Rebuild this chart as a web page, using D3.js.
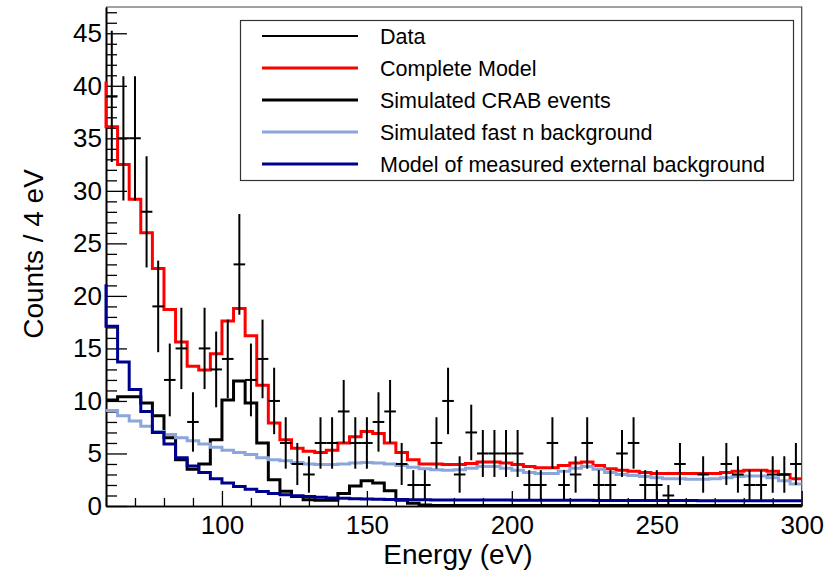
<!DOCTYPE html>
<html>
<head>
<meta charset="utf-8">
<script src="https://cdn.jsdelivr.net/npm/d3@7"></script>
<style>
  html, body { margin: 0; padding: 0; background: #ffffff; }
  svg { display: block; font-family: "Liberation Sans", Arial, Helvetica, sans-serif; }
</style>
</head>
<body>
<svg id="chart" width="836" height="571"></svg>
<script>
// ---- Data (4 eV bins, bin centres in eV) ----
const binCenters = [62,66,70,74,78,82,86,90,94,98,102,106,110,114,118,122,126,130,134,138,
  142,146,150,154,158,162,166,170,174,178,182,186,190,194,198,202,206,210,214,218,
  222,226,230,234,238,242,246,250,254,258,262,266,270,274,278,282,286,290,294,298];
const binWidth = 4;

// measured counts per bin
const dataCounts = [39,35,35,28,19,12,15,8,15,13,
  14,23,12,14,10,6,4,3,6,6,
  9,6,6,8,9,4,2,2,6,10,
  3,7,5,5,5,5,2,2,6,2,
  3,6,2,2,5,6,2,2,1,4,
  0,3,0,4,3,2,2,3,3,4];

// complete model
const completeModel = [36.1,32.5,29.2,26.0,22.6,18.7,15.6,13.3,12.95,14.5,
  17.6,18.8,16.2,11.5,7.9,6.3,5.5,5.2,5.1,5.3,
  6.0,6.6,7.1,6.9,6.0,5.1,4.4,4.0,4.0,3.95,
  3.95,4.05,4.2,4.2,4.1,3.95,3.75,3.65,3.65,3.85,
  4.1,4.2,3.85,3.55,3.4,3.3,3.2,3.1,3.1,3.1,
  3.1,3.1,3.1,3.2,3.3,3.4,3.4,3.3,3.0,2.6];
const completeModelEdge = 40.4;  // value of the bin just below 60 eV

// simulated CRAB events
const crabModel = [10.1,10.4,10.4,9.8,8.6,6.5,4.4,3.5,4.0,6.3,
  10.1,11.9,9.8,6.0,2.5,1.4,0.9,0.6,0.55,0.55,
  1.2,1.9,2.4,2.2,1.45,0.55,0.25,0.1,0.05,0.05,
  0.05,0.05,0.05,0.05,0.05,0.05,0.05,0.05,0.05,0.05,
  0.05,0.05,0.05,0.05,0.05,0.05,0.05,0.05,0.05,0.05,
  0.05,0.05,0.05,0.05,0.05,0.05,0.05,0.05,0.05,0.05];
const crabModelEdge = 10.1;

// simulated fast n background
const fastNModel = [9.1,8.6,8.1,7.6,7.1,6.8,6.5,6.2,5.9,5.6,
  5.3,5.1,4.9,4.6,4.4,4.3,4.15,4.0,3.95,3.95,
  4.0,4.1,4.15,4.1,4.0,3.85,3.7,3.55,3.45,3.4,
  3.45,3.6,3.75,3.75,3.6,3.4,3.2,3.1,3.1,3.3,
  3.6,3.75,3.5,3.2,3.0,2.9,2.8,2.7,2.6,2.6,
  2.55,2.55,2.6,2.7,2.8,2.85,2.85,2.7,2.4,2.1];
const fastNModelEdge = 9.1;

// model of measured external background
const extBkgModel = [17.1,13.7,11.1,9.0,7.0,5.9,4.6,3.8,3.2,2.6,
  2.2,1.85,1.6,1.38,1.2,1.07,0.97,0.9,0.83,0.77,
  0.73,0.7,0.67,0.65,0.63,0.61,0.6,0.59,0.58,0.58,
  0.57,0.57,0.56,0.56,0.56,0.55,0.55,0.55,0.54,0.54,
  0.54,0.54,0.53,0.53,0.53,0.53,0.52,0.52,0.52,0.52,
  0.52,0.51,0.51,0.51,0.51,0.5,0.5,0.5,0.5,0.5];
const extBkgModelEdge = 21.1;

const xMajorTicks = [100,150,200,250,300];
const xMinorTicks = [60,70,80,90,110,120,130,140,160,170,180,190,210,220,230,240,260,270,280,290];
const yMajorTicks = [0,5,10,15,20,25,30,35,40,45];
const yMinorTicks = [1,2,3,4,6,7,8,9,11,12,13,14,16,17,18,19,21,22,23,24,26,27,28,29,31,32,33,34,36,37,38,39,41,42,43,44,46,47];

const legendLabels = ["Data","Complete Model","Simulated CRAB events","Simulated fast n background","Model of measured external background"];
const xTitle = "Energy (eV)";
const yTitle = "Counts / 4 eV";

// ---- Layout ----
const svg = d3.select("#chart");
const mLeft = 106, mRight = 801.7, mTop = 7, mBottom = 506;
const x = d3.scaleLinear().domain([60, 300]).range([mLeft, mRight]);
const y = d3.scaleLinear().domain([0, 47.5]).range([mBottom, mTop]);

svg.append("rect").attr("width", 836).attr("height", 571).attr("fill", "#fff");

svg.append("defs").append("clipPath").attr("id", "clip")
  .append("rect").attr("x", mLeft - 2).attr("y", mTop).attr("width", mRight - mLeft + 2).attr("height", mBottom - mTop);

// frame (top/right)
svg.append("path")
  .attr("d", `M${mLeft},${mTop}H${mRight}V${mBottom}`)
  .attr("fill", "none").attr("stroke", "#444").attr("stroke-width", 1.2);

// ---- Axes (drawn below the histograms) ----
const yAxisMajor = d3.axisLeft(y).tickValues(yMajorTicks).tickSize(-21).tickSizeOuter(0).tickPadding(4);
const yAxisMinor = d3.axisLeft(y).tickValues(yMinorTicks).tickSize(-11).tickSizeOuter(0).tickFormat("");
const xAxisMajor = d3.axisBottom(x).tickValues(xMajorTicks).tickSize(-15).tickSizeOuter(0).tickPadding(10);
const xAxisMinor = d3.axisBottom(x).tickValues(xMinorTicks).tickSize(-8).tickSizeOuter(0).tickFormat("");

function styleAxis(g) {
  g.select(".domain").attr("stroke", "#000").attr("stroke-width", 1.6);
  g.selectAll(".tick line").attr("stroke", "#000").attr("stroke-width", 1.3);
  g.selectAll(".tick text").attr("fill", "#000").attr("font-size", 26)
    .attr("font-family", "'Liberation Sans', Arial, sans-serif");
}
svg.append("g").attr("transform", `translate(${mLeft},0)`).call(yAxisMinor).call(styleAxis);
svg.append("g").attr("transform", `translate(${mLeft},0)`).call(yAxisMajor).call(styleAxis);
svg.append("g").attr("transform", `translate(0,${mBottom})`).call(xAxisMinor).call(styleAxis);
svg.append("g").attr("transform", `translate(0,${mBottom})`).call(xAxisMajor).call(styleAxis);

const plot = svg.append("g").attr("clip-path", "url(#clip)");

function histPoints(vals, edge) {
  const pts = [[60, edge]];
  vals.forEach((v, i) => {
    const lo = binCenters[i] - binWidth / 2, hi = binCenters[i] + binWidth / 2;
    pts.push([lo, v]); pts.push([hi, v]);
  });
  return pts;
}
const line = d3.line().x(d => x(d[0])).y(d => y(d[1]));

const models = [
  { vals: completeModel, edge: completeModelEdge, color: "#ff0000", w: 3 },
  { vals: crabModel, edge: crabModelEdge, color: "#000000", w: 3 },
  { vals: fastNModel, edge: fastNModelEdge, color: "#8ca6dc", w: 3 },
  { vals: extBkgModel, edge: extBkgModelEdge, color: "#00008f", w: 3 }
];
models.forEach(m => {
  plot.append("path")
    .attr("d", line(histPoints(m.vals, m.edge)))
    .attr("fill", "none").attr("stroke", m.color).attr("stroke-width", m.w)
    .attr("stroke-linejoin", "miter");
});

// data points with Poisson errors
const pts = binCenters.map((c, i) => ({ c, n: dataCounts[i] })).filter(d => d.n > 0);
const dg = plot.append("g").attr("stroke", "#000").attr("stroke-width", 2);
dg.selectAll("line.v").data(pts).join("line").attr("class", "v")
  .attr("x1", d => x(d.c)).attr("x2", d => x(d.c))
  .attr("y1", d => y(d.n + Math.sqrt(d.n))).attr("y2", d => y(Math.max(0, d.n - Math.sqrt(d.n))));
dg.selectAll("line.h").data(pts).join("line").attr("class", "h")
  .attr("x1", d => x(d.c - binWidth / 2)).attr("x2", d => x(d.c + binWidth / 2))
  .attr("y1", d => y(d.n)).attr("y2", d => y(d.n));

// titles
svg.append("text").attr("x", 458).attr("y", 564).attr("text-anchor", "middle")
  .attr("font-size", 28).attr("fill", "#000").text(xTitle);
svg.append("text").attr("transform", "translate(43,254) rotate(-90)").attr("text-anchor", "middle")
  .attr("font-size", 28).attr("fill", "#000").text(yTitle);

// ---- Legend ----
const legend = svg.append("g");
legend.append("rect").attr("x", 240.5).attr("y", 20.5).attr("width", 553).attr("height", 160)
  .attr("fill", "#fff").attr("stroke", "#333").attr("stroke-width", 1.2);
const legendStyles = [
  { color: "#000000", w: 1.8 },
  { color: "#ff0000", w: 3 },
  { color: "#000000", w: 3 },
  { color: "#8ca6dc", w: 3 },
  { color: "#00008f", w: 3 }
];
legendLabels.forEach((lab, i) => {
  const cy = 36 + i * 32;
  legend.append("line").attr("x1", 262).attr("x2", 358).attr("y1", cy).attr("y2", cy)
    .attr("stroke", legendStyles[i].color).attr("stroke-width", legendStyles[i].w);
  legend.append("text").attr("x", 380).attr("y", cy).attr("dy", "0.35em")
    .attr("font-size", 21.5).attr("fill", "#000").text(lab);
});
</script>
</body>
</html>
